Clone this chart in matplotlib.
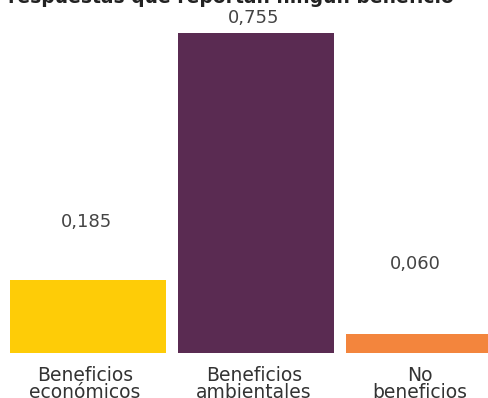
import numpy as np
import matplotlib.pyplot as plt

categories = ["Beneficios\neconómicos", "Beneficios\nambientales", "No\nbeneficios"]
values = [0.185, 0.755, 0.060]
value_labels = ["0,185", "0,755", "0,060"]
colors = ["#FECC07", "#5A2B52", "#F3853D"]

fig = plt.figure(figsize=(4.88, 3.98), dpi=100)
ax = fig.add_axes([0, 45 / 398, 1, 353 / 398])

x = np.arange(len(categories))
ax.bar(x, values, width=156 / 168, color=colors)
ax.set_xlim(-88 / 168, 400 / 168)
ax.set_ylim(7 / 433, 360 / 433)
ax.axis("off")

# label offsets above the bar tops, in pixels
lab_dy = [53, 10, 65]
lab_dx = [-2, -2, -9]
for i, (v, t) in enumerate(zip(values, value_labels)):
    ax.annotate(t, (x[i], v), xytext=(lab_dx[i], lab_dy[i]), textcoords="offset pixels",
                ha="center", va="baseline", fontsize=13, color="#444444")

cat_dx = [-3, -2, -4]
for i, c in enumerate(categories):
    ax.annotate(c, (x[i], 0), xycoords=("data", "axes fraction"),
                xytext=(cat_dx[i], -13), textcoords="offset pixels",
                ha="center", va="top", fontsize=13.5, color="#333333",
                linespacing=0.85)

fig.text(8 / 488, 1 - 3 / 398, "respuestas que reportan ningún beneficio",
         fontsize=13.5, fontweight="bold", color="#222222", va="baseline", ha="left")

fig.savefig("out.png", dpi=100)
